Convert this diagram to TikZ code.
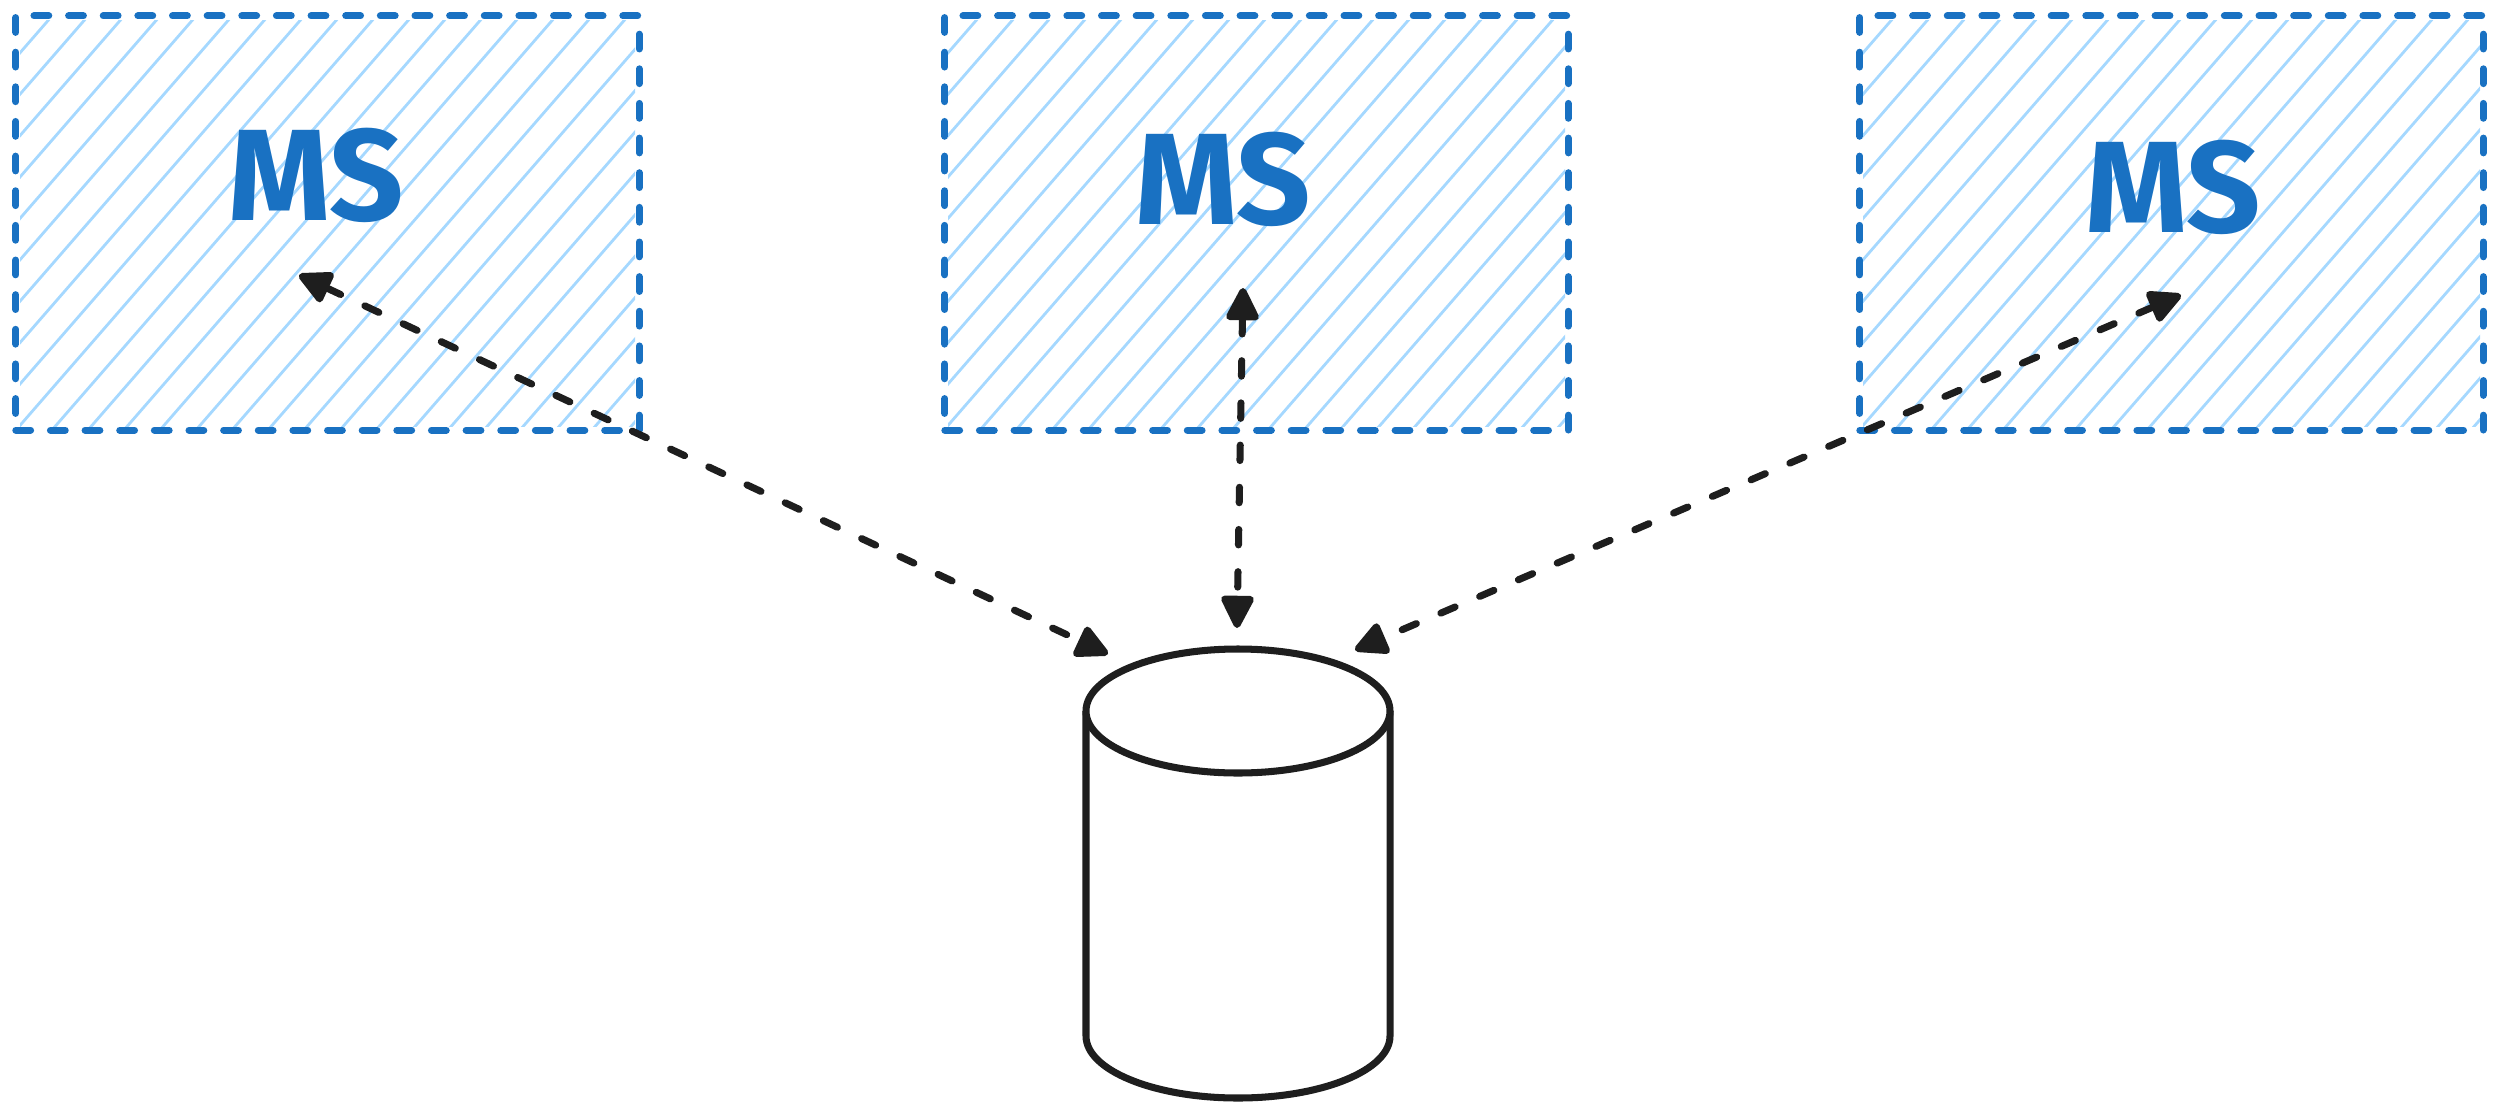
\documentclass[tikz,border=0pt]{standalone}
\usepackage{fontspec}
\setmainfont{Fira Sans}
\usetikzlibrary{arrows.meta}
\definecolor{msblue}{HTML}{1971C2}
\definecolor{hatchblue}{HTML}{A5D8FF}
\definecolor{ink}{HTML}{1E1E1E}
\begin{document}
\begin{tikzpicture}[x=0.01cm,y=-0.01cm,
  msbox/.style={draw=msblue, line width=2pt, dash pattern=on 4.2pt off 5.65pt, line cap=round,
    minimum width=6.23cm, minimum height=4.14cm, inner sep=0pt, outer sep=0pt},
  mslabel/.style={text=msblue, font=\fontsize{37}{44}\selectfont\bfseries},
  hatchline/.style={draw=hatchblue, line width=0.8pt},
  conn/.style={draw=ink, line width=2pt, line cap=round, dash pattern=on 4.4pt off 7.6pt,
    <->, >={Triangle[length=10.5pt,width=10pt,round]}},
  dbline/.style={draw=ink, line width=2pt}]
\useasboundingbox (0,0) rectangle (2500,1115);
% hatching
\foreach \L/\T/\R/\B in {16/16/639/430, 944/16/1569/430, 1859/16/2484/430} {
  \begin{scope}
    \clip (\L+4,\T+4) rectangle (\R-4,\B-4);
    \foreach \i in {0,...,28}
      \draw[hatchline] ({\L-360+\i*36},\B) -- ({\L+\i*36},\T);
  \end{scope}
}
% boxes
\node[msbox] (ms1) at (327.5,223) {};
\node[msbox] (ms2) at (1256.5,223) {};
\node[msbox] (ms3) at (2171.5,223) {};
\node[mslabel] (t1) at (316,175) {MS};
\node[mslabel] (t2) at (1223,179) {MS};
\node[mslabel] (t3) at (2173,187) {MS};
% database
\node[minimum width=3.04cm, minimum height=4.49cm, inner sep=0pt, outer sep=0pt] (db) at (1238,873.5) {};
\draw[dbline] (1086,711) -- (1086,1036) arc[start angle=180,end angle=0,x radius=152,y radius=62] -- (1390,711);
\draw[dbline, fill=white] (1238,711) ellipse[x radius=152, y radius=62];
% connectors
\coordinate (a1) at (299,275); \coordinate (b1) at (1108,654);
\coordinate (a2) at (1243,288); \coordinate (b2) at (1237,628);
\coordinate (a3) at (2181,295); \coordinate (b3) at (1355,650);
\draw[conn] (a1) -- (b1);
\draw[conn] (a2) -- (b2);
\draw[conn] (a3) -- (b3);
\end{tikzpicture}
\end{document}
